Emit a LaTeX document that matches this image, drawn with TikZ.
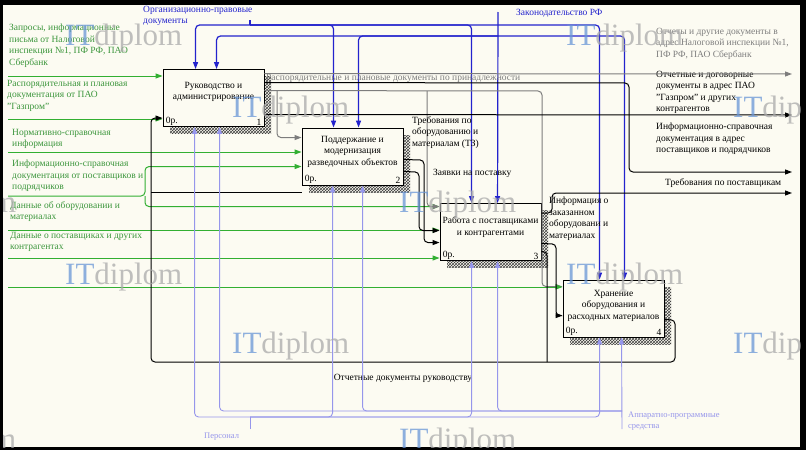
\documentclass[tikz,border=0pt]{standalone}
\usepackage{fontspec}
\setmainfont{Liberation Serif}
\usetikzlibrary{arrows.meta,patterns,shadows}

\begin{document}
\begin{tikzpicture}[x=1pt,y=-1pt,
  >={Triangle[length=7pt,width=5pt]},
  every node/.style={font=\fontsize{9.5}{11.5}\selectfont,inner sep=0pt},
  box/.style={draw=black,line width=0.9pt,fill=kBg,minimum width=101pt,minimum height=57pt,
    drop shadow={shadow xshift=7pt,shadow yshift=-7pt,opacity=1,pattern=crosshatch,pattern color=black!75}},
  txt/.style={align=center},
  lbl/.style={align=left,anchor=north west},
  ctrl/.style={draw=kCtrl,line width=1.2pt,rounded corners=4pt},
  inp/.style={draw=kIn,line width=1pt,rounded corners=4pt},
  outb/.style={draw=black,line width=1pt,rounded corners=4pt},
  outg/.style={draw=kOutG,line width=1pt,rounded corners=4pt},
  mech/.style={draw=kMech,line width=0.9pt,rounded corners=4pt},
  wm/.style={font=\fontsize{31}{31}\selectfont,anchor=west,opacity=0.75}]
  \definecolor{kBg}{RGB}{252,251,242}
  \definecolor{kCtrl}{RGB}{35,35,205}
  \definecolor{kIn}{RGB}{50,175,50}
  \definecolor{kInTxt}{RGB}{60,150,60}
  \definecolor{kOutG}{RGB}{125,125,125}
  \definecolor{kMech}{RGB}{150,150,235}
  \definecolor{kWmB}{RGB}{105,150,215}
  \definecolor{kWmG}{RGB}{170,170,170}

  \fill[black] (0,0) rectangle (806,450);
  \fill[kBg] (3,5) rectangle (800,447);
  \useasboundingbox (0,0) rectangle (806,450);

  \node[box] (ruk) at (213.5,98) {};
  \node[box] (pod) at (352.5,156.5) {};
  \node[box] (rab) at (490.5,232) {};
  \node[box] (hran) at (613.5,308.5) {};

  \node[txt] (rukT) at ([yshift=6pt]ruk.center) {Руководство и\\администрирование};
  \node[txt] (podT) at ([yshift=5pt]pod.center) {Поддержание и\\модернизация\\разведочных объектов};
  \node[txt] (rabT) at ([yshift=5pt]rab.center) {Работа с поставщиками\\и контрагентами};
  \node[txt] (hranT) at ([yshift=3pt]hran.center) {Хранение\\оборудования и\\расходных материалов};

  \foreach \b/\idx in {ruk/1,pod/2,rab/3,hran/4}
  {
    \node[anchor=south west] (\b0) at ([xshift=3pt,yshift=1.5pt]\b.south west) {0р.};
    \node[anchor=south east] (\b\idx) at ([xshift=-3pt,yshift=1.5pt]\b.south east) {\idx};
  }

  \node[lbl,text=kCtrl] (lOrg) at (143,6) {Организационно-правовые\\документы};
  \node[anchor=west,text=kCtrl] (lZak) at (516,13) {Законодательство РФ};
  \coordinate (orgS) at (250,20);
  \coordinate (orgB) at (250,25);
  \draw[ctrl] (orgS) -- (orgB);
  \foreach \b/\dx in {ruk/33,pod/32,rab/32,hran/37}
    \draw[ctrl,->] (orgB) -| ([xshift=\dx pt]\b.north west);
  \coordinate (zakS) at (498,12);
  \coordinate (zakB) at (498,36);
  \draw[ctrl,->] (zakS) -- ([xshift=58pt]rab.north west);
  \foreach \b/\dx in {ruk/54,pod/57,hran/62}
    \draw[ctrl,->] (zakB) -| ([xshift=\dx pt]\b.north west);

  \node[lbl,text=kInTxt] (lZapr) at (9,24) {Запросы, информационные\\письма от Налоговой\\инспекции №1, ПФ РФ, ПАО\\Сбербанк};
  \node[lbl,text=kInTxt] (lRasp) at (7,80) {Распорядительная и плановая\\документация от ПАО\\"Газпром"};
  \node[lbl,text=kInTxt] (lNorm) at (12,129) {Нормативно-справочная\\информация};
  \node[lbl,text=kInTxt] (lInfo) at (12,160) {Информационно-справочная\\документация от поставщиков и\\подрядчиков};
  \node[lbl,text=kInTxt] (lObor) at (10,201) {Данные об оборудовании и\\материалах};
  \node[lbl,text=kInTxt] (lPost) at (10,232) {Данные о поставщиках и других\\контрагентах};
  \coordinate (iZapr) at (8,76);
  \coordinate (iRasp) at (8,119);
  \coordinate (iNorm) at (8,152);
  \coordinate (iInfo) at (8,196);
  \coordinate (iObor) at (8,230);
  \coordinate (iPost) at (8,258);
  \coordinate (iPost2) at (8,287);
  \draw[inp,->] (iZapr) -- (iZapr -| ruk.west);
  \draw[inp,->] (iRasp) -- (iRasp -| ruk.west);
  \draw[inp,->] (iNorm) -- (iNorm -| pod.west);
  \draw[inp,->] (iInfo) -- (145,196) |- ([yshift=-39pt]pod.north west);
  \draw[inp,->] (145,196) |- ([yshift=-3.5pt]rab.north west);
  \draw[inp,->] (iObor) -- (iObor -| rab.west);
  \draw[inp,->] (iPost) -- (iPost -| rab.west);

  \coordinate (oOtch) at (792,74);
  \coordinate (oDog) at (792,115);
  \coordinate (oInf) at (792,172);
  \coordinate (oTreb) at (792,193);
  \node[lbl,text=kOutG] (lOtch) at (656,28) {Отчеты и другие документы в\\адрес Налоговой инспекции №1,\\ПФ РФ, ПАО Сбербанк};
  \node[lbl] (lDog) at (656,71) {Отчетные и договорные\\документы в адрес ПАО\\"Газпром" и других\\контрагентов};
  \node[lbl] (lInf) at (656,123) {Информационно-справочная\\документация в адрес\\поставщиков и подрядчиков};
  \node[anchor=west] (lTrP) at (665,183) {Требования по поставщикам};
  \node[anchor=west,text=kOutG] (lRpd) at (266,78.5) {Распорядительные и плановые документы по принадлежности};
  \draw[outg,->] ([yshift=-4.5pt]ruk.north east) -- (oOtch);
  \draw[outb,->] ([yshift=-13.5pt]ruk.north east) -- (629,83) |- (oInf);
  \draw[outg,->] ([yshift=-21.5pt]ruk.north east) -- (542,91) |- ([yshift=-7pt]hran.north west);
  \draw[outg,->] (277,91) |- ([yshift=-10pt]pod.north west);
  \draw[outg,->] (427,91) |- ([yshift=-3.5pt]rab.north west);
  \draw[inp,->] (iPost2) -- (iPost2 -| hran.west);
  \draw[outb,->] ([yshift=-45.5pt]ruk.north east) -- (oDog);

  \node[lbl] (lTz) at (412,116) {Требования по\\оборудованию и\\материалам (ТЗ)};
  \node[anchor=west] (lZv) at (433,173) {Заявки на поставку};
  \draw[outb,->] ([yshift=-32pt]pod.north east) -- (424,160) |- ([yshift=-39.5pt]rab.north west);
  \draw[outb,->] ([yshift=-44pt]pod.north east) -- (419,172) |- ([yshift=-27.5pt]rab.north west);

  \node[lbl] (lZkz) at (549,197) {Информация о\\заказанном\\оборудовани и\\материалах};
  \draw[outb,->] ([yshift=-10pt]rab.north east) -- (552,213) |- (oTreb);
  \draw[outb,->] ([yshift=-40.5pt]rab.north east) -- (556,244) |- ([yshift=-36pt]hran.north west);
  \draw[outb] ([yshift=-48.5pt]rab.north east) -| (547,362);
  \draw[outb,->] ([yshift=-40pt]hran.north east) -- (675,320) |- (151,362) |- ([yshift=-49pt]ruk.north west);
  \coordinate (fbT) at (151,192);
  \draw[outb] (fbT) -- (fbT -| pod.west);
  \node (lOdr) at (403,378) {Отчетные документы руководству};

  \coordinate (persS) at (250,429);
  \coordinate (persB) at (250,417);
  \draw[mech] (persS) -- (persB);
  \foreach \b/\dx in {ruk/32,pod/31,rab/32,hran/37}
    \draw[mech,->] (persB) -| ([xshift=\dx pt]\b.south west);
  \coordinate (appS) at (622,429);
  \coordinate (appB) at (622,411);
  \draw[mech,->] (appS) -- ([xshift=59pt]hran.south west);
  \foreach \b/\dx in {ruk/57,pod/61,rab/58}
    \draw[mech,->] (appB) -| ([xshift=\dx pt]\b.south west);
  \node[anchor=west,text=kMech,font=\fontsize{8.5}{10.5}\selectfont] (lPers) at (204,437) {Персонал};
  \node[lbl,text=kMech,font=\fontsize{8.5}{10.5}\selectfont] (lApp) at (628,412) {Аппаратно-программные\\средства};

  \begin{scope}
    \clip (3,5) rectangle (800,447);
    \foreach \x/\y [count=\i] in {65/38,566/38,232/110,733/110,-101/205,399/205,65/277,566/277,232/346,733/346,-101/442,399/442}
      \node[wm] (wm\i) at (\x,\y) {\textcolor{kWmB}{IT}\textcolor{kWmG}{diplom}};
  \end{scope}
\end{tikzpicture}
\end{document}
